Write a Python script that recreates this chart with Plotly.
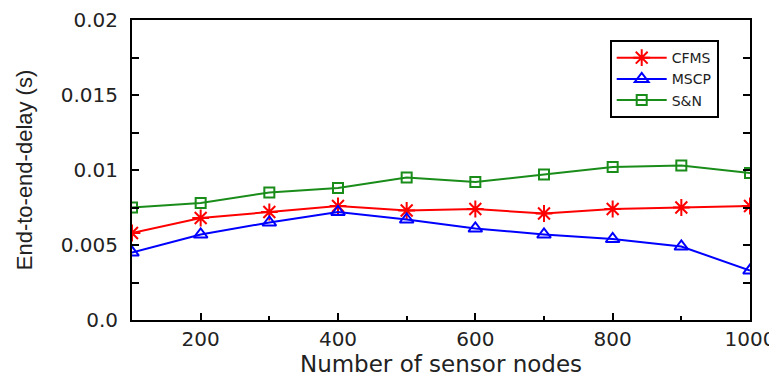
import plotly.graph_objects as go

nodes = [100, 200, 300, 400, 500, 600, 700, 800, 900, 1000]
cfms = [0.0058, 0.0068, 0.0072, 0.0076, 0.0073, 0.0074, 0.0071, 0.0074, 0.0075, 0.0076]
mscp = [0.0045, 0.0057, 0.0065, 0.0072, 0.0067, 0.0061, 0.0057, 0.0054, 0.0049, 0.0033]
sn = [0.0075, 0.0078, 0.0085, 0.0088, 0.0095, 0.0092, 0.0097, 0.0102, 0.0103, 0.0098]

y_tickvals = [0, 0.005, 0.01, 0.015, 0.02]
y_ticktext = ["0.0", "0.005", "0.01", "0.015", "0.02"]
x_tickvals = [200, 400, 600, 800, 1000]
x_ticktext = ["200", "400", "600", "800", "1000"]

fig = go.Figure()
fig.add_trace(go.Scatter(x=nodes, y=cfms, name="CFMS", mode="lines+markers",
                         line=dict(color="#ff0000", width=2),
                         marker=dict(symbol="asterisk-open", size=14, color="#ff0000",
                                     line=dict(color="#ff0000", width=2))))
fig.add_trace(go.Scatter(x=nodes, y=mscp, name="MSCP", mode="lines+markers",
                         line=dict(color="#0000ff", width=2),
                         marker=dict(symbol="triangle-up-open", size=12, color="#0000ff",
                                     line=dict(color="#0000ff", width=2))))
fig.add_trace(go.Scatter(x=nodes, y=sn, name="S&N", mode="lines+markers",
                         line=dict(color="#1a8c1a", width=2),
                         marker=dict(symbol="square-open", size=10, color="#1a8c1a",
                                     line=dict(color="#1a8c1a", width=2))))

fig.update_layout(
    width=769, height=375,
    margin=dict(l=124, r=27, t=12, b=63),
    plot_bgcolor="white", paper_bgcolor="white",
    font=dict(family="DejaVu Sans", color="#222222"),
    showlegend=True,
    legend=dict(x=0.773, y=0.933, xanchor="left", yanchor="top",
                bordercolor="black", borderwidth=2, bgcolor="white",
                font=dict(family="DejaVu Sans", size=14, color="#222222"),
                tracegroupgap=0, itemwidth=50),
)
fig.update_xaxes(
    range=[100, 1000], tickmode="array", tickvals=x_tickvals, ticktext=x_ticktext,
    ticks="inside", ticklen=7, tickwidth=2, tickcolor="black",
    showline=True, linecolor="black", linewidth=2, mirror=True,
    showgrid=False, zeroline=False, automargin=False,
    tickfont=dict(family="DejaVu Sans", size=20, color="#222222"),
    minor=dict(tickvals=[300, 500, 700, 900], ticks="inside", ticklen=4, tickwidth=2, tickcolor="black"),
    title=dict(text="Number of sensor nodes", font=dict(family="DejaVu Sans", size=23, color="#222222"), standoff=1),
)
fig.update_yaxes(
    range=[0, 0.02], tickmode="array", tickvals=y_tickvals, ticktext=y_ticktext,
    ticks="inside", ticklen=7, tickwidth=2, tickcolor="black",
    showline=True, linecolor="black", linewidth=2, mirror="ticks",
    showgrid=False, zeroline=False, automargin=False, ticklabelstandoff=8,
    tickfont=dict(family="DejaVu Sans", size=20, color="#222222"),
    minor=dict(tickvals=[0.0025, 0.0075, 0.0125, 0.0175], ticks="inside", ticklen=7, tickwidth=2, tickcolor="black"),
    title=dict(text="End-to-end-delay (s)", font=dict(family="Liberation Sans", size=22, color="#222222"), standoff=22),
)

fig.write_html("out.html")
